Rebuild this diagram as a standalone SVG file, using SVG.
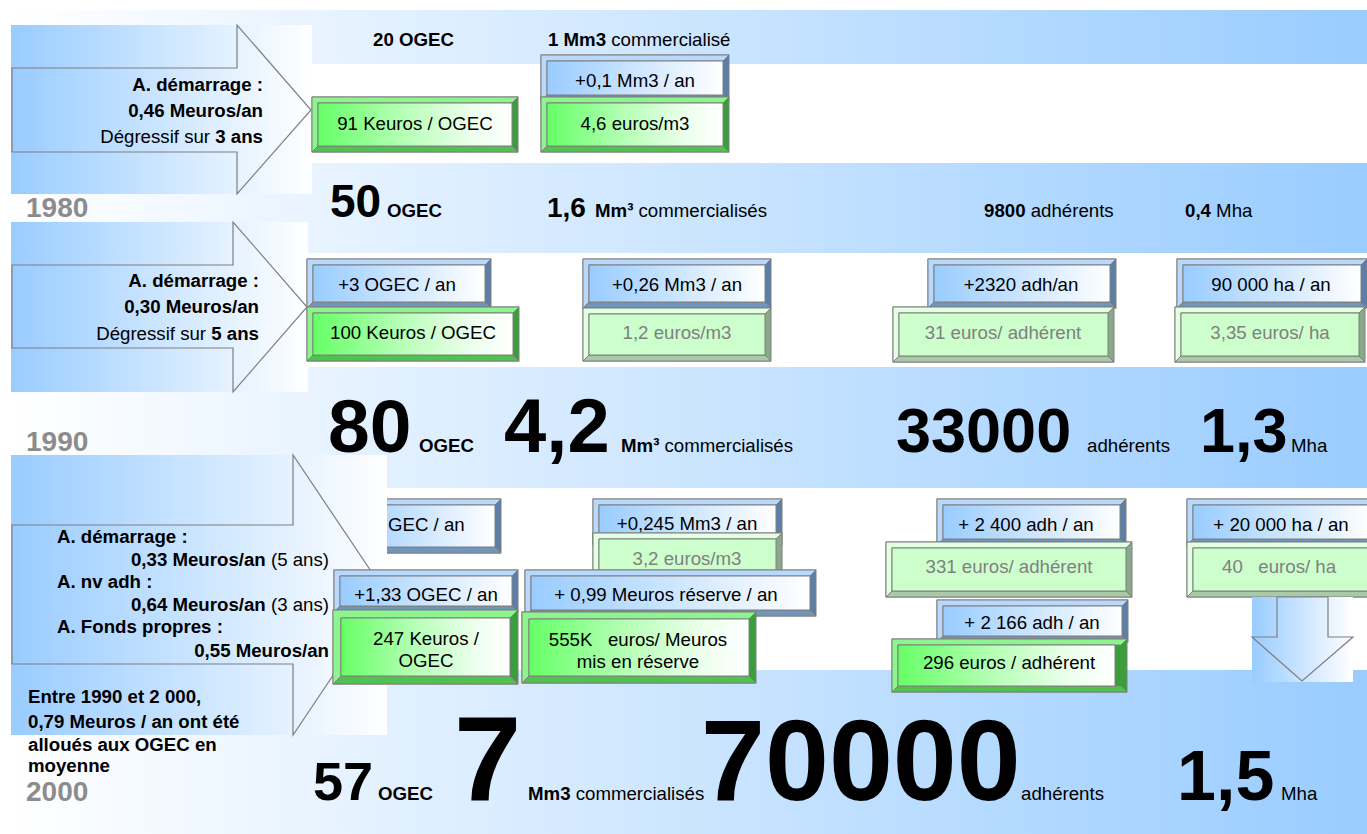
<svg xmlns="http://www.w3.org/2000/svg" width="1367" height="834" viewBox="0 0 1367 834">
<defs>
<linearGradient id="gBand" gradientUnits="userSpaceOnUse" x1="10" y1="0" x2="1367" y2="0"><stop offset="0" stop-color="#ffffff"/><stop offset="1" stop-color="#99ccff"/></linearGradient>
<linearGradient id="gArrow" x1="0" y1="0" x2="1" y2="0"><stop offset="0" stop-color="#99ccff"/><stop offset="1" stop-color="#ffffff"/></linearGradient>
<linearGradient id="gBlue" x1="0" y1="0" x2="1" y2="0"><stop offset="0" stop-color="#99ccff"/><stop offset="1" stop-color="#ffffff"/></linearGradient>
<linearGradient id="gGreen" x1="0" y1="0" x2="1" y2="0"><stop offset="0" stop-color="#66ff66"/><stop offset="0.45" stop-color="#b8ffb8"/><stop offset="0.8" stop-color="#eeffee"/><stop offset="1" stop-color="#ffffff"/></linearGradient>
<style>
text{font-family:"Liberation Sans",Arial,sans-serif;font-size:18.67px;fill:#000}
.b{font-weight:bold}
.c{text-anchor:middle}
.e{text-anchor:end}
.gr{fill:#808080}
.pre{white-space:pre}
.yr{font-size:28px;font-weight:bold;fill:#8c8c8c}
.band{fill:url(#gBand)}
.arect{fill:url(#gArrow)}
.ashape{fill:url(#gArrow);stroke:#7f7f7f;stroke-width:1.2}
.kb,.kt,.kd,.kf,.gb,.gt,.gd,.gf,.pb,.pt,.pd,.pf{stroke:#7f7f7f;stroke-width:1}
.kb{fill:#5b7fa6}.kt{fill:#b8d9fc}.kd{fill:#7196bd}.kf{fill:url(#gBlue)}
.gb{fill:#3c9d3c}.gt{fill:#8df58d}.gd{fill:#4fc24f}.gf{fill:url(#gGreen)}
.pb{fill:#8aa88a}.pt{fill:#e2ffe2}.pd{fill:#a9c9a9}.pf{fill:#ccffcc}
</style>
</defs>
<rect width="1367" height="834" fill="#ffffff"/>

<g id="bands">
<rect class="band" x="10" y="10" width="1357" height="54"/>
<rect class="band" x="10" y="163" width="1357" height="90"/>
<rect class="band" x="10" y="367" width="1357" height="121"/>
<rect class="band" x="10" y="670" width="1357" height="164"/>
</g>

<g id="band1-text">
<text x="373" y="46" class="b">20 OGEC</text>
<text x="548" y="46"><tspan class="b">1 Mm3</tspan> commercialisé</text>
</g>
<g id="band2-text">
<text x="330" y="217" class="b" style="font-size:46px">50</text>
<text x="387" y="217" class="b">OGEC</text>
<text x="547" y="217" class="b" style="font-size:28px">1,6</text>
<text x="595" y="217"><tspan class="b">Mm³</tspan> commercialisés</text>
<text x="984" y="217"><tspan class="b">9800</tspan> adhérents</text>
<text x="1185" y="217"><tspan class="b">0,4</tspan> Mha</text>
</g>
<g id="band3-text">
<text x="328" y="452" class="b" style="font-size:75px">80</text>
<text x="419" y="452" class="b">OGEC</text>
<text x="504" y="452" class="b" style="font-size:76px">4,2</text>
<text x="621" y="452"><tspan class="b">Mm³</tspan> commercialisés</text>
<text x="896" y="452" class="b" style="font-size:63px">33000</text>
<text x="1087" y="452">adhérents</text>
<text x="1200" y="452" class="b" style="font-size:63px">1,3</text>
<text x="1291" y="452">Mha</text>
</g>

<g id="years">
<text x="26" y="217" class="yr">1980</text>
<text x="26" y="451" class="yr">1990</text>
<text x="26" y="801" class="yr">2000</text>
</g>

<g id="arrows">
<g id="arrow1">
<rect class="arect" x="11" y="25" width="301" height="169"/>
<polygon class="ashape" points="12,68 237,68 237,25 311,110 237,194 237,152 12,152"/>
<text x="263" y="91" class="b e">A. démarrage :</text>
<text x="263" y="117" class="b e">0,46 Meuros/an</text>
<text x="263" y="143" class="e">Dégressif sur <tspan class="b">3 ans</tspan></text>
</g>
<g id="arrow2">
<rect class="arect" x="11" y="222" width="297" height="170"/>
<polygon class="ashape" points="12,265 233,265 233,222 307,307 233,392 233,348 12,348"/>
<text x="259" y="287" class="b e">A. démarrage :</text>
<text x="259" y="313" class="b e">0,30 Meuros/an</text>
<text x="259" y="340" class="e">Dégressif sur <tspan class="b">5 ans</tspan></text>
</g>
</g>

<g id="row1980">
<g id="n-b1">
<rect x="541" y="55" width="188" height="46" class="kb"/>
<polygon points="541,55 729,55 723,61 547,61 547,95 541,101" class="kt"/>
<polygon points="541,101 547,95 723,95 729,101" class="kd"/>
<rect x="547" y="61" width="176" height="34" class="kf"/>
<text x="635" y="87" class="c">+0,1 Mm3 / an</text>
</g>
<g id="n-g1">
<rect x="312" y="97" width="206" height="55" class="gb"/>
<polygon points="312,97 518,97 512,103 318,103 318,146 312,152" class="gt"/>
<polygon points="312,152 318,146 512,146 518,152" class="gd"/>
<rect x="318" y="103" width="194" height="43" class="gf"/>
<text x="415" y="130" class="c">91 Keuros / OGEC</text>
</g>
<g id="n-g2">
<rect x="541" y="97" width="188" height="55" class="gb"/>
<polygon points="541,97 729,97 723,103 547,103 547,146 541,152" class="gt"/>
<polygon points="541,152 547,146 723,146 729,152" class="gd"/>
<rect x="547" y="103" width="176" height="43" class="gf"/>
<text x="635" y="130" class="c">4,6 euros/m3</text>
</g>
</g>

<g id="row1990">
<g id="n-b2">
<rect x="307" y="259" width="184" height="49" class="kb"/>
<polygon points="307,259 491,259 485,265 313,265 313,302 307,308" class="kt"/>
<polygon points="307,308 313,302 485,302 491,308" class="kd"/>
<rect x="313" y="265" width="172" height="37" class="kf"/>
<text x="397" y="291" class="c">+3 OGEC / an</text>
</g>
<g id="n-g3">
<rect x="307" y="307" width="212" height="54" class="gb"/>
<polygon points="307,307 519,307 513,313 313,313 313,355 307,361" class="gt"/>
<polygon points="307,361 313,355 513,355 519,361" class="gd"/>
<rect x="313" y="313" width="200" height="42" class="gf"/>
<text x="413" y="339" class="c">100 Keuros / OGEC</text>
</g>
<g id="n-b3">
<rect x="583" y="259" width="188" height="49" class="kb"/>
<polygon points="583,259 771,259 765,265 589,265 589,302 583,308" class="kt"/>
<polygon points="583,308 589,302 765,302 771,308" class="kd"/>
<rect x="589" y="265" width="176" height="37" class="kf"/>
<text x="677" y="291" class="c">+0,26 Mm3 / an</text>
</g>
<g id="n-p1">
<rect x="583" y="308" width="188" height="53" class="pb"/>
<polygon points="583,308 771,308 765,314 589,314 589,355 583,361" class="pt"/>
<polygon points="583,361 589,355 765,355 771,361" class="pd"/>
<rect x="589" y="314" width="176" height="41" class="pf"/>
<text x="677" y="339" class="c gr">1,2 euros/m3</text>
</g>
<g id="n-b4">
<rect x="928" y="259" width="188" height="49" class="kb"/>
<polygon points="928,259 1116,259 1110,265 934,265 934,302 928,308" class="kt"/>
<polygon points="928,308 934,302 1110,302 1116,308" class="kd"/>
<rect x="934" y="265" width="176" height="37" class="kf"/>
<text x="1021" y="291" class="c">+2320 adh/an</text>
</g>
<g id="n-p2">
<rect x="893" y="307" width="221" height="55" class="pb"/>
<polygon points="893,307 1114,307 1108,313 899,313 899,356 893,362" class="pt"/>
<polygon points="893,362 899,356 1108,356 1114,362" class="pd"/>
<rect x="899" y="313" width="209" height="43" class="pf"/>
<text x="1003" y="339" class="c gr">31 euros/ adhérent</text>
</g>
<g id="n-b5">
<rect x="1177" y="259" width="190" height="49" class="kb"/>
<polygon points="1177,259 1367,259 1361,265 1183,265 1183,302 1177,308" class="kt"/>
<polygon points="1177,308 1183,302 1361,302 1367,308" class="kd"/>
<rect x="1183" y="265" width="178" height="37" class="kf"/>
<text x="1271" y="291" class="c">90 000 ha / an</text>
</g>
<g id="n-p3">
<rect x="1175" y="307" width="190" height="55" class="pb"/>
<polygon points="1175,307 1365,307 1359,313 1181,313 1181,356 1175,362" class="pt"/>
<polygon points="1175,362 1181,356 1359,356 1365,362" class="pd"/>
<rect x="1181" y="313" width="178" height="43" class="pf"/>
<text x="1270" y="339" class="c gr">3,35 euros/ ha</text>
</g>
</g>

<g id="n-b6">
<rect x="340" y="499" width="161" height="54" class="kb"/>
<polygon points="340,499 501,499 495,505 346,505 346,547 340,553" class="kt"/>
<polygon points="340,553 346,547 495,547 501,553" class="kd"/>
<rect x="346" y="505" width="149" height="42" class="kf"/>
<text x="388" y="531">GEC / an</text>
</g>

<g id="arrow3">
<rect class="arect" x="11" y="455" width="376" height="280"/>
<polygon class="ashape" points="12,525 293,525 293,455 387,595 293,735 293,664 12,664"/>
<text x="57" y="543" class="b">A. démarrage :</text>
<text x="329" y="566" class="e"><tspan class="b">0,33 Meuros/an</tspan> (5 ans)</text>
<text x="57" y="588" class="b">A. nv adh :</text>
<text x="329" y="611" class="e"><tspan class="b">0,64 Meuros/an</tspan> (3 ans)</text>
<text x="57" y="633" class="b">A. Fonds propres :</text>
<text x="329" y="657" class="b e">0,55 Meuros/an</text>
</g>

<g id="row2000">
<g id="n-b7">
<rect x="593" y="499" width="189" height="46" class="kb"/>
<polygon points="593,499 782,499 776,505 599,505 599,539 593,545" class="kt"/>
<polygon points="593,545 599,539 776,539 782,545" class="kd"/>
<rect x="599" y="505" width="177" height="34" class="kf"/>
<text x="687" y="530" class="c">+0,245 Mm3 / an</text>
</g>
<g id="n-p4">
<rect x="593" y="533" width="189" height="47" class="pb"/>
<polygon points="593,533 782,533 776,539 599,539 599,574 593,580" class="pt"/>
<polygon points="593,580 599,574 776,574 782,580" class="pd"/>
<rect x="599" y="539" width="177" height="35" class="pf"/>
<text x="687" y="565" class="c gr">3,2 euros/m3</text>
</g>
<g id="n-b8">
<rect x="525" y="570" width="291" height="46" class="kb"/>
<polygon points="525,570 816,570 810,576 531,576 531,610 525,616" class="kt"/>
<polygon points="525,616 531,610 810,610 816,616" class="kd"/>
<rect x="531" y="576" width="279" height="34" class="kf"/>
<text x="666" y="601" class="c">+ 0,99 Meuros réserve / an</text>
</g>
<g id="n-g4">
<rect x="522" y="612" width="234" height="71" class="gb"/>
<polygon points="522,612 756,612 749,619 529,619 529,676 522,683" class="gt"/>
<polygon points="522,683 529,676 749,676 756,683" class="gd"/>
<rect x="529" y="619" width="220" height="57" class="gf"/>
<text x="638" y="646" class="c pre">555K   euros/ Meuros</text>
<text x="638" y="668" class="c">mis en réserve</text>
</g>
<g id="n-b9">
<rect x="334" y="570" width="184" height="42" class="kb"/>
<polygon points="334,570 518,570 512,576 340,576 340,606 334,612" class="kt"/>
<polygon points="334,612 340,606 512,606 518,612" class="kd"/>
<rect x="340" y="576" width="172" height="30" class="kf"/>
<text x="426" y="601" class="c">+1,33 OGEC / an</text>
</g>
<g id="n-g5">
<rect x="333" y="610" width="185" height="74" class="gb"/>
<polygon points="333,610 518,610 510,618 341,618 341,676 333,684" class="gt"/>
<polygon points="333,684 341,676 510,676 518,684" class="gd"/>
<rect x="341" y="618" width="169" height="58" class="gf"/>
<text x="426" y="645" class="c">247 Keuros /</text>
<text x="426" y="667" class="c">OGEC</text>
</g>
<g id="n-b10">
<rect x="937" y="499" width="189" height="46" class="kb"/>
<polygon points="937,499 1126,499 1120,505 943,505 943,539 937,545" class="kt"/>
<polygon points="937,545 943,539 1120,539 1126,545" class="kd"/>
<rect x="943" y="505" width="177" height="34" class="kf"/>
<text x="1026" y="531" class="c">+ 2 400 adh / an</text>
</g>
<g id="n-p5">
<rect x="886" y="542" width="246" height="55" class="pb"/>
<polygon points="886,542 1132,542 1126,548 892,548 892,591 886,597" class="pt"/>
<polygon points="886,597 892,591 1126,591 1132,597" class="pd"/>
<rect x="892" y="548" width="234" height="43" class="pf"/>
<text x="1009" y="573" class="c gr">331 euros/ adhérent</text>
</g>
<g id="n-b11">
<rect x="937" y="600" width="191" height="42" class="kb"/>
<polygon points="937,600 1128,600 1122,606 943,606 943,636 937,642" class="kt"/>
<polygon points="937,642 943,636 1122,636 1128,642" class="kd"/>
<rect x="943" y="606" width="179" height="30" class="kf"/>
<text x="1032" y="629" class="c">+ 2 166 adh / an</text>
</g>
<g id="n-g6">
<rect x="892" y="639" width="235" height="53" class="gb"/>
<polygon points="892,639 1127,639 1121,645 898,645 898,686 892,692" class="gt"/>
<polygon points="892,692 898,686 1121,686 1127,692" class="gd"/>
<rect x="898" y="645" width="217" height="41" class="gf"/>
<text x="1009" y="669" class="c">296 euros / adhérent</text>
</g>
<g id="n-b12">
<rect x="1187" y="499" width="190" height="46" class="kb"/>
<polygon points="1187,499 1377,499 1371,505 1193,505 1193,539 1187,545" class="kt"/>
<polygon points="1187,545 1193,539 1371,539 1377,545" class="kd"/>
<rect x="1193" y="505" width="178" height="34" class="kf"/>
<text x="1281" y="531" class="c">+ 20 000 ha / an</text>
</g>
<g id="n-p6">
<rect x="1187" y="542" width="190" height="55" class="pb"/>
<polygon points="1187,542 1377,542 1371,548 1193,548 1193,591 1187,597" class="pt"/>
<polygon points="1187,597 1193,591 1371,591 1377,597" class="pd"/>
<rect x="1193" y="548" width="178" height="43" class="pf"/>
<text x="1222" y="573" class="gr pre">40   euros/ ha</text>
</g>
<g id="down-arrow">
<rect class="arect" x="1252" y="597" width="101" height="85"/>
<polygon class="ashape" points="1277,597 1328,597 1328,637 1353,637 1302,681 1252,637 1277,637"/>
</g>
</g>

<g id="band4-text">
<text x="28" y="703" class="b">Entre 1990 et 2 000,</text>
<text x="28" y="728" class="b">0,79 Meuros / an ont été</text>
<text x="28" y="751" class="b">alloués aux OGEC en</text>
<text x="28" y="772" class="b">moyenne</text>
<text x="313" y="800" class="b" style="font-size:54px">57</text>
<text x="378" y="800" class="b">OGEC</text>
<text x="454" y="800" class="b" style="font-size:121px">7</text>
<text x="528" y="800"><tspan class="b">Mm3</tspan> commercialisés</text>
<text x="701" y="800" class="b" style="font-size:115px">70000</text>
<text x="1021" y="800">adhérents</text>
<text x="1177" y="800" class="b" style="font-size:70px">1,5</text>
<text x="1281" y="800">Mha</text>
</g>
</svg>
